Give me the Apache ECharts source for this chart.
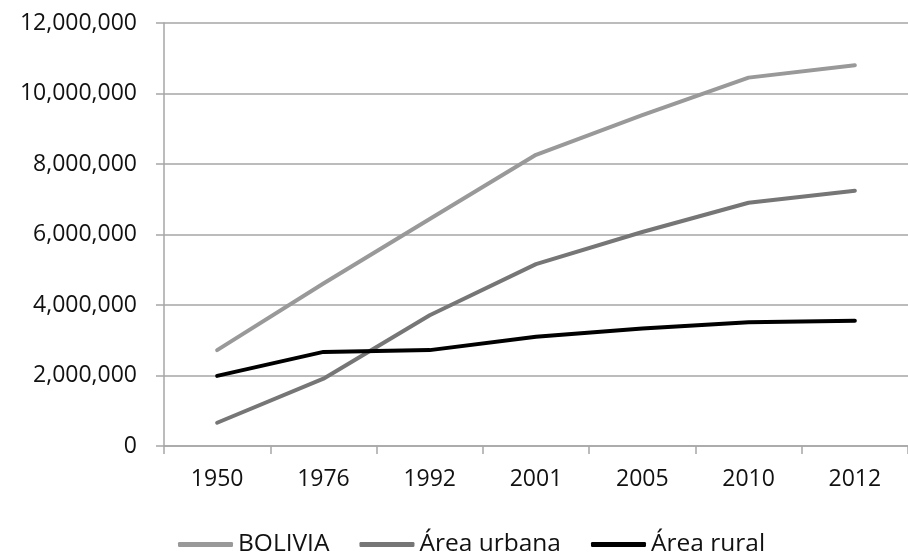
<!DOCTYPE html>
<html>
<head>
<meta charset="utf-8">
<style>
  html, body { margin: 0; padding: 0; background: #fff; }
  #chart { width: 908px; height: 553px; }
</style>
<script src="https://cdn.jsdelivr.net/npm/echarts@6/dist/echarts.min.js"></script>
</head>
<body>
<div id="chart"></div>
<script>
// Population of Bolivia by census year, total and split by area
const years = ['1950', '1976', '1992', '2001', '2005', '2010', '2012'];
const bolivia = [2720000, 4610000, 6440000, 8260000, 9390000, 10450000, 10800000];
const urbana = [660000, 1910000, 3710000, 5160000, 6070000, 6900000, 7240000];
const rural = [1990000, 2670000, 2720000, 3100000, 3330000, 3510000, 3550000];
const seriesNames = ['BOLIVIA', 'Área urbana', 'Área rural'];
const seriesColors = ['#999999', '#767676', '#000000'];

const font = '"Open Sans", Lato, sans-serif';
const chart = echarts.init(document.getElementById('chart'), null, { renderer: 'canvas' });

function fmt(v) {
  return v.toLocaleString('en-US');
}

const allData = [bolivia, urbana, rural];

chart.setOption({
  animation: false,
  backgroundColor: '#ffffff',
  grid: { left: 164, top: 23, width: 754, height: 423 },
  legend: {
    left: 173,
    top: 527,
    icon: 'roundRect',
    itemWidth: 55,
    itemHeight: 5,
    itemGap: 30,
    textStyle: { fontFamily: font, fontSize: 24.5, color: '#111', padding: [0, 0, 0, 0] },
    data: seriesNames
  },
  xAxis: {
    type: 'category',
    data: years,
    boundaryGap: true,
    axisLine: { lineStyle: { color: '#a6a6a6', width: 1.5 } },
    axisTick: { show: true, length: 8, inside: false, lineStyle: { color: '#a6a6a6', width: 1.5 } },
    axisLabel: { margin: 22, fontFamily: font, fontSize: 23, color: '#111' },
    splitLine: { show: false }
  },
  yAxis: {
    type: 'value',
    min: 0,
    max: 12000000,
    interval: 2000000,
    axisLine: { show: true, lineStyle: { color: '#a6a6a6', width: 1.5 } },
    axisTick: { show: true, length: 8, lineStyle: { color: '#a6a6a6', width: 1.5 } },
    axisLabel: { margin: 27, fontFamily: font, fontSize: 23, color: '#111', formatter: fmt },
    splitLine: { show: true, lineStyle: { color: '#a6a6a6', width: 1.5 } }
  },
  series: seriesNames.map((name, i) => ({
    name: name,
    type: 'line',
    data: allData[i],
    symbol: 'none',
    color: seriesColors[i],
    lineStyle: { color: seriesColors[i], width: 4, cap: 'round', join: 'round' },
    z: 3 + i
  }))
});
</script>
</body>
</html>
